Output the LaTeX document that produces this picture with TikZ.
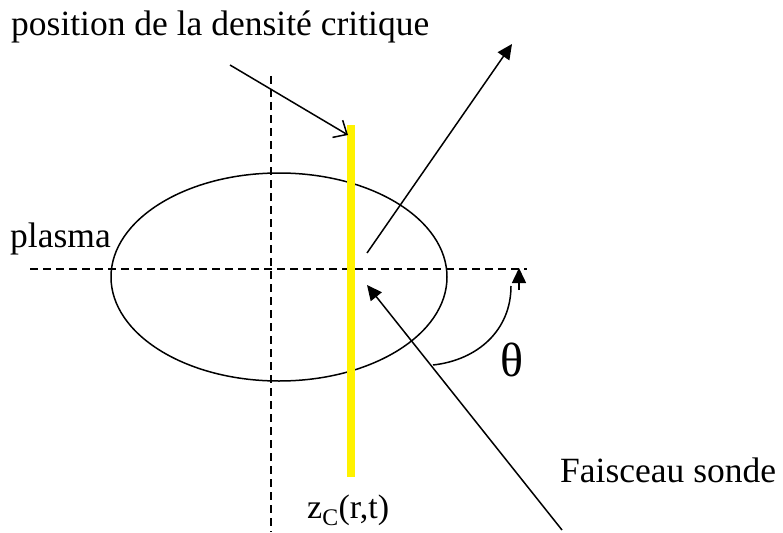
\documentclass[tikz,border=0pt]{standalone}
\usepackage{fontspec}
\setmainfont{Liberation Serif}
\usetikzlibrary{arrows.meta}
\begin{document}
\begin{tikzpicture}[x=1pt,y=-1pt,
  ln/.style={line width=1.5pt, black},
  dashline/.style={line width=1.3pt, dash pattern=on 8pt off 5pt},
  lbl/.style={inner sep=0pt, anchor=base west, font=\fontsize{35.5}{40}\selectfont},
  openarrow/.style={ln, -{Straight Barb[length=11pt,width=20pt,line width=1.5pt]}},
  fillarrow/.style={ln, -{Triangle[length=15pt,width=14pt]}}]
\useasboundingbox (0,0) rectangle (783,532);
% axes
\coordinate (hl) at (30,269); \coordinate (hr) at (527,269);
\coordinate (vt) at (271,76); \coordinate (vb) at (271,532);
\draw[dashline] (hl) -- (hr);
\draw[dashline] (vt) -- (vb);
% plasma ellipse
\draw[ln] (279,277) ellipse [x radius=168, y radius=104];
% critical density bar
\fill[yellow] (347,125) rectangle (355,477);
% labels
\node[lbl] (title) at (11,36) {position de la densité critique};
\node[lbl] (plasma) at (10,247) {plasma};
\node[lbl] (fais) at (560,482) {Faisceau sonde};
\node[lbl, font=\fontsize{34}{38}\selectfont] (zc) at (307,518) {z\textsubscript{C}(r,t)};
\node[lbl, font=\fontsize{48}{52}\selectfont] (theta) at (500,376) {θ};
% arrows
\coordinate (a1s) at (230,65); \coordinate (a1e) at (348,135);
\draw[openarrow] (a1s) -- (a1e);
\coordinate (outs) at (367,253); \coordinate (oute) at (512,44);
\draw[fillarrow] (outs) -- (oute);
\coordinate (ins) at (562,530); \coordinate (ine) at (367,285);
\draw[fillarrow] (ins) -- (ine);
% angle
\coordinate (th1) at (433,365); \coordinate (th2) at (511,286);
\draw[ln] (th1) .. controls (478,360) and (511,330) .. (th2);
\coordinate (st1) at (519,290); \coordinate (st2) at (519,268);
\draw[fillarrow] (st1) -- (st2);
\end{tikzpicture}
\end{document}
